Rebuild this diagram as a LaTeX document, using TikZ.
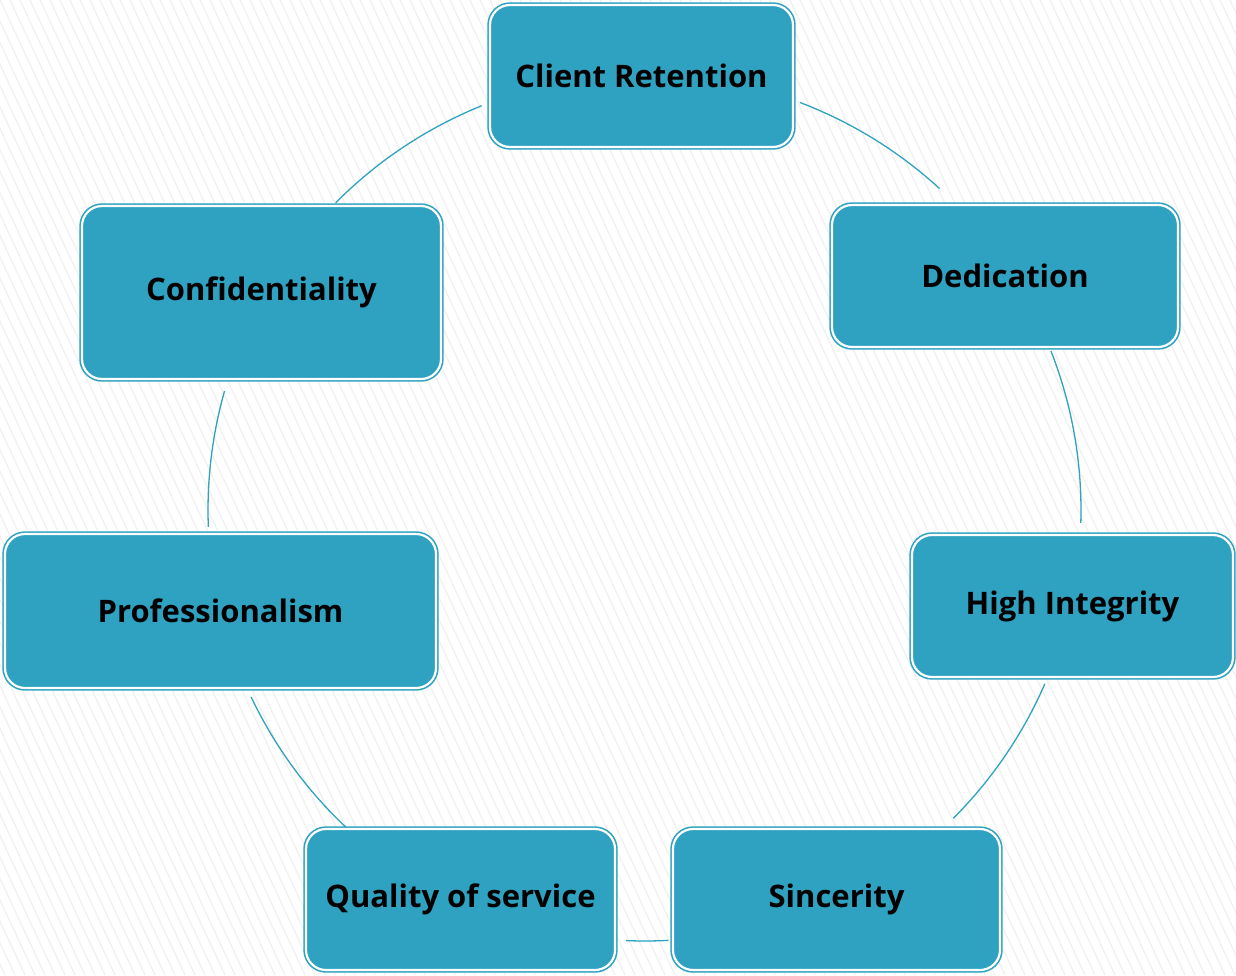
\documentclass[tikz,border=0pt]{standalone}
\usepackage{fontspec}
\setmainfont{Open Sans}
\definecolor{boxc}{RGB}{46,162,192}
\definecolor{hatch}{RGB}{240,240,240}
\begin{document}
\begin{tikzpicture}[x=1pt,y=-1pt,
  card/.style={draw=boxc, fill=boxc, double=white, double distance=2.2pt, line width=1.6pt,
    rounded corners=20pt, inner sep=0pt, font=\fontsize{31}{36}\selectfont\bfseries, text=black},
  link/.style={draw=boxc, line width=1.3pt}]
\useasboundingbox (0,0) rectangle (1236,975);
\fill[white] (0,0) rectangle (1236,975);
\begin{scope}
\clip (0,0) rectangle (1236,975);
\foreach \k in {-460,-450,...,1240} {
  \draw[hatch, line width=1.2pt] (\k,0) -- (\k+455,975);
}
\end{scope}
\coordinate (cen) at (645,510);
% connectors (arcs of the ring); angles negated because the y axis points down
\draw[link] (cen) ++(-69.2:436) arc[start angle=-69.2, end angle=-47.5, radius=436];
\draw[link] (cen) ++(-21.4:436) arc[start angle=-21.4, end angle=1.7, radius=436];
\draw[link] (cen) ++(23.5:436) arc[start angle=23.5, end angle=45, radius=436];
\draw[link] (cen) ++(86.9:431) arc[start angle=86.9, end angle=92.5, radius=431];
\draw[link] (cen) ++(133.3:436) arc[start angle=133.3, end angle=154.6, radius=436];
\draw[link] (cen) ++(-182.2:437) arc[start angle=-182.2, end angle=-164.2, radius=437];
\draw[link] (cen) ++(-135.2:436) arc[start angle=-135.2, end angle=-112, radius=436];
% boxes
\node[card, minimum width=303pt, minimum height=142pt] (cr) at (641.5,76) {Client Retention};
\node[card, minimum width=346pt, minimum height=142pt] (ded) at (1005,276) {Dedication};
\node[card, minimum width=321pt, minimum height=142pt] (hi) at (1072.5,606) {High Integrity};
\node[card, minimum width=327pt, minimum height=141pt] (sin) at (836.5,899.5) {Sincerity};
\node[card, minimum width=309pt, minimum height=141pt] (qos) at (460.5,899.5) {Quality of service};
\node[card, minimum width=431pt, minimum height=154pt] (pro) at (220.5,611) {Professionalism};
\node[card, minimum width=359pt, minimum height=173pt] (con) at (261.5,292.5) {Confidentiality};
\end{tikzpicture}
\end{document}
